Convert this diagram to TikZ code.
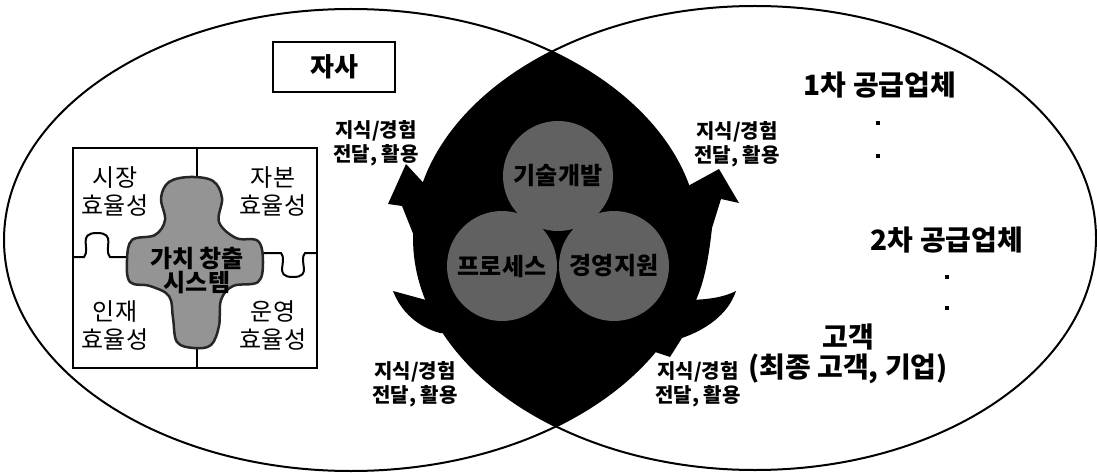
\documentclass[tikz,border=0pt]{standalone}
\usepackage{fontspec}
\setmainfont{Noto Sans CJK KR}
\begin{document}
\begin{tikzpicture}[x=1pt,y=-1pt,
  outline/.style={line width=2pt},
  lbl/.style={font=\bfseries\fontsize{20}{24}\selectfont, align=center, inner sep=0pt},
  eff/.style={font=\fontsize{24}{28}\selectfont, align=center, inner sep=0pt},
  party/.style={font=\bfseries\fontsize{28}{30}\selectfont, inner sep=0pt},
  dotmark/.style={rectangle, fill=black, inner sep=0pt, minimum size=4pt},
  func/.style={circle, fill=black!62, minimum size=110pt, inner sep=0pt,
    font=\bfseries\fontsize{24}{26}\selectfont},
  core/.style={font=\bfseries\fontsize{24}{24}\selectfont, align=center, inner sep=0pt},
]
\useasboundingbox (0,0) rectangle (1097,473);

% the two overlapping domains
\draw[outline] (351,240) ellipse [x radius=347pt, y radius=231pt];
\draw[outline] (755,238) ellipse [x radius=341pt, y radius=232pt];

% shared area, filled black
\begin{scope}
  \clip (351,240) ellipse [x radius=347pt, y radius=231pt];
  \fill (755,238) ellipse [x radius=341pt, y radius=232pt];
\end{scope}

% clockwise ring of arrows around the shared area
% upper left: head pointing up
\fill (406,164) -- (388,204) -- (402,206) -- (418,246) -- (445,246) -- (424,210) -- (430,190) -- cycle;
% lower left: curved head pointing up-left
\fill (393,291) .. controls (401,312) and (418,327) .. (440,333) -- (470,333) -- (440,300) -- (426,300) -- cycle;
% upper right: head pointing down-right
\fill (688,186) -- (719,169) -- (739,203) -- (721,199) -- (712,228)
      .. controls (709,255) and (705,280) .. (696,300) -- (680,300) -- (680,190) -- cycle;
% lower right: swept tail ending in a barb
\fill (736,291) .. controls (728,315) and (705,330) .. (682,338) -- (670,357) -- (655,352)
      -- (640,340) -- (683,300) .. controls (705,300) and (722,298) .. (736,291) -- cycle;

% three functions in the centre
\node[func] (tech) at (558,176) {기술개발};
\node[func] (proc) at (502,266) {프로세스};
\node[func] (mgmt) at (614,266) {경영지원};

% own company label
\node[draw, line width=1.3pt, minimum width=122pt, minimum height=50pt, inner sep=0pt,
      font=\bfseries\fontsize{26}{28}\selectfont] (self) at (334,67) {자사};

% puzzle of four efficiencies
\draw[outline] (73,148) rectangle (317,368);
\draw[outline] (197,148) -- (197,368);
\draw[outline] (73,257) -- (84,257) .. controls (91,249) and (77,233) .. (97,233)
      .. controls (117,233) and (103,249) .. (110,257) -- (150,257);
\draw[outline] (245,253) -- (281,253) .. controls (288,261) and (273,277) .. (293,277)
      .. controls (313,277) and (298,261) .. (305,253) -- (317,253);
\filldraw[fill=black!42, draw=black!85, line width=2.5pt]
  plot[smooth cycle, tension=0.6] coordinates {
    (190,177) (213,181) (222,198) (219,222) (236,238) (258,241) (263,262) (258,282)
    (233,286) (221,300) (219,326) (211,345) (194,348) (177,342) (173,318) (169,296)
    (150,286) (130,282) (127,260) (132,240) (155,235) (165,220) (161,198) (169,182)};

\node[eff] (mkt) at (115,191) {시장\\효율성};
\node[eff] (cap) at (273,191) {자본\\효율성};
\node[eff] (hr)  at (115,325) {인재\\효율성};
\node[eff] (ops) at (273,325) {운영\\효율성};
\node[core] (value) at (197,271) {가치 창출\\시스템};

% knowledge transfer labels
\node[lbl] (kTL) at (376,143) {지식/경험\\전달, 활용};
\node[lbl] (kTR) at (737,144) {지식/경험\\전달, 활용};
\node[lbl] (kBL) at (415,384) {지식/경험\\전달, 활용};
\node[lbl] (kBR) at (698,384) {지식/경험\\전달, 활용};

% partners on the right
\node[party] (sup1) at (880,85) {1차 공급업체};
\node[dotmark] (d1) at (878,123) {};
\node[dotmark] (d2) at (878,156) {};
\node[party] (sup2) at (947,240) {2차 공급업체};
\node[dotmark] (d3) at (947,277) {};
\node[dotmark] (d4) at (947,308) {};
\node[party] (cust) at (848,337) {고객};
\node[party] (custd) at (848,369) {(최종 고객, 기업)};
\end{tikzpicture}
\end{document}
